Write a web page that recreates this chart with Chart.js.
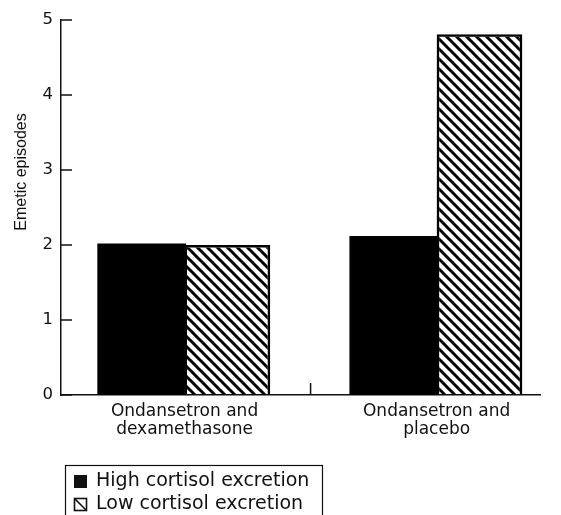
<!DOCTYPE html>
<html>
<head>
<meta charset="utf-8">
<script src="https://cdn.jsdelivr.net/npm/chart.js@4"></script>
<style>
  html, body { margin: 0; padding: 0; background: #fff; }
  #wrap { width: 561px; height: 515px; position: relative; }
</style>
</head>
<body>
<div id="wrap"><canvas id="myChart"></canvas></div>
<script>
const categories = ['Ondansetron and dexamethasone', 'Ondansetron and placebo'];
const categoryLines = [['Ondansetron and', 'dexamethasone'], ['Ondansetron and', 'placebo']];
const seriesNames = ['High cortisol excretion', 'Low cortisol excretion'];
const highCortisol = [2.0, 2.1];
const lowCortisol = [2.0, 4.81];
const yTicks = [0, 1, 2, 3, 4, 5];
const yTitle = 'Emetic episodes';

const ink = '#111';
const font = 'DejaVu Sans';

// diagonal "\\\" hatch used for the low cortisol bars
function makeHatch() {
    const c = document.createElement('canvas');
    c.width = 10;
    c.height = 10;
    const g = c.getContext('2d');
    g.strokeStyle = '#000';
    g.lineWidth = 3;
    g.beginPath();
    g.moveTo(-5, -5); g.lineTo(15, 15);
    g.moveTo(-5, 5); g.lineTo(5, 15);
    g.moveTo(5, -5); g.lineTo(15, 5);
    g.stroke();
    return g.createPattern(c, 'repeat');
}

// inward y ticks, tick between the groups, y title and the boxed legend
const marks = {
    id: 'marks',
    afterDraw(chart) {
        const { ctx, scales: { x, y } } = chart;
        ctx.save();
        ctx.strokeStyle = ink;
        ctx.lineWidth = 1.5;
        ctx.beginPath();
        yTicks.forEach(v => {
            const py = y.getPixelForValue(v);
            ctx.moveTo(x.left, py);
            ctx.lineTo(x.left + 11, py);
        });
        const mid = x.getPixelForValue((1 + categories.length) / 2);
        ctx.moveTo(mid, y.bottom);
        ctx.lineTo(mid, y.bottom - 12);
        ctx.stroke();
        ctx.restore();

        ctx.save();
        ctx.fillStyle = ink;
        ctx.font = '16px "Liberation Sans"';
        ctx.translate(22, 172);
        ctx.rotate(-Math.PI / 2);
        ctx.textAlign = 'center';
        ctx.textBaseline = 'middle';
        ctx.fillText(yTitle, 0, 0);
        ctx.restore();

        ctx.save();
        const lx = 65, ly = 465;
        ctx.strokeStyle = ink;
        ctx.lineWidth = 1.2;
        ctx.strokeRect(lx + 0.5, ly + 0.5, 257, 80);
        ctx.font = '19px "' + font + '"';
        ctx.textAlign = 'left';
        ctx.textBaseline = 'middle';
        chart.data.datasets.forEach((d, i) => {
            const cy = 481 + i * 23;
            ctx.fillStyle = ink;
            if (i === 0) {
                ctx.fillRect(74, cy - 6, 13, 13);
            } else {
                ctx.lineWidth = 1.6;
                ctx.strokeRect(74.5, cy - 5.5, 12, 12);
                ctx.beginPath();
                ctx.moveTo(74.5, cy - 5.5);
                ctx.lineTo(86.5, cy + 6.5);
                ctx.stroke();
            }
            ctx.fillText(d.label, 96, cy);
        });
        ctx.restore();
    }
};

const ctx = document.querySelector('#myChart');

new Chart(ctx, {
    type: 'bar',
    data: {
        datasets: [{
            label: seriesNames[0],
            data: categories.map((c, i) => ({ x: i + 1, y: highCortisol[i] })),
            backgroundColor: '#000',
            borderColor: '#000',
            borderWidth: 0,
            inflateAmount: 1.5
        }, {
            label: seriesNames[1],
            data: categories.map((c, i) => ({ x: i + 1, y: lowCortisol[i] })),
            backgroundColor: makeHatch(),
            borderColor: '#000',
            borderWidth: 2.5
        }]
    },
    options: {
        responsive: true,
        maintainAspectRatio: false,
        animation: false,
        categoryPercentage: 0.68,
        barPercentage: 1,
        layout: { padding: { top: 20, right: 21, left: 0, bottom: 0 } },
        plugins: {
            legend: { display: false },
            tooltip: { enabled: false }
        },
        scales: {
            x: {
                type: 'linear',
                offset: false,
                min: 0.51,
                max: 2.41,
                afterBuildTicks: s => { s.ticks = categories.map((c, i) => ({ value: i + 1 })); },
                afterFit: s => { s.height = 120; },
                grid: { drawOnChartArea: false, drawTicks: false },
                border: { color: ink, width: 1.5 },
                ticks: {
                    padding: 8,
                    color: ink,
                    maxRotation: 0,
                    autoSkip: false,
                    font: { family: font, size: 17, lineHeight: 1.05 },
                    callback: v => categoryLines[v - 1]
                }
            },
            y: {
                min: 0,
                max: 5,
                afterBuildTicks: s => { s.ticks = yTicks.map(v => ({ value: v })); },
                afterFit: s => { s.width = 61; },
                grid: { drawOnChartArea: false, drawTicks: false },
                border: { color: ink, width: 1.5 },
                ticks: {
                    padding: 8,
                    color: ink,
                    font: { family: font, size: 16.5 }
                }
            }
        }
    },
    plugins: [marks]
});
</script>
</body>
</html>
